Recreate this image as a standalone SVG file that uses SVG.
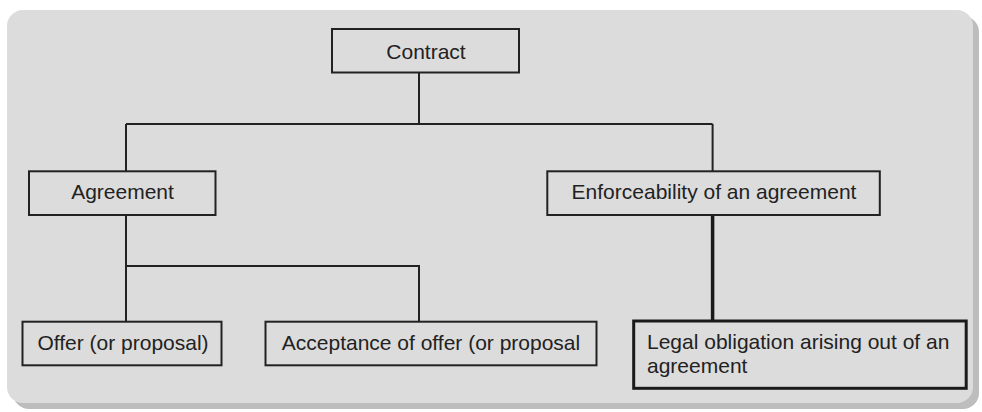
<svg xmlns="http://www.w3.org/2000/svg" width="982" height="412" viewBox="0 0 982 412">
<style>
.box{fill:#dcdcdc;stroke:#222;stroke-width:2}
.thick{fill:#dcdcdc;stroke:#1a1a1a;stroke-width:3}
.lbl{font-family:"Liberation Sans",Arial,sans-serif;font-size:21px;fill:#222}
.c{text-anchor:middle}
.ln{fill:none;stroke:#222;stroke-width:2}
.tl{fill:none;stroke:#1a1a1a;stroke-width:3.5}
</style>
<rect x="13" y="16" width="966" height="393" rx="16" fill="#bdbdbd"/>
<rect x="7" y="10" width="966" height="393" rx="16" fill="#dcdcdc"/>
<g id="connectors">
<path class="ln" d="M419 72.5V124M126 124H712.6M126 124V171.3M712.6 124V171.3"/>
<path class="ln" d="M126 215V321.7M126 266H419V321.7"/>
<path class="tl" d="M712.6 215V321"/>
</g>
<g id="contract"><rect class="box" x="332" y="29" width="187" height="43.5"/><text class="lbl c" x="426" y="59">Contract</text></g>
<g id="agreement"><rect class="box" x="29" y="171.3" width="186.5" height="43.7"/><text class="lbl c" x="122.5" y="199">Agreement</text></g>
<g id="enforceability"><rect class="box" x="547.3" y="171.3" width="332.5" height="43.7"/><text class="lbl c" x="714" y="199">Enforceability of an agreement</text></g>
<g id="offer"><rect class="box" x="22.5" y="321.7" width="199" height="43.6"/><text class="lbl c" x="123" y="349.5">Offer (or proposal)</text></g>
<g id="acceptance"><rect class="box" x="265.5" y="321.7" width="331" height="43.6"/><text class="lbl c" x="431" y="349.5">Acceptance of offer (or proposal</text></g>
<g id="legal"><rect class="thick" x="633.7" y="321" width="332.5" height="67.3"/><text class="lbl" x="647" y="349">Legal obligation arising out of an</text><text class="lbl" x="647" y="373">agreement</text></g>
</svg>
